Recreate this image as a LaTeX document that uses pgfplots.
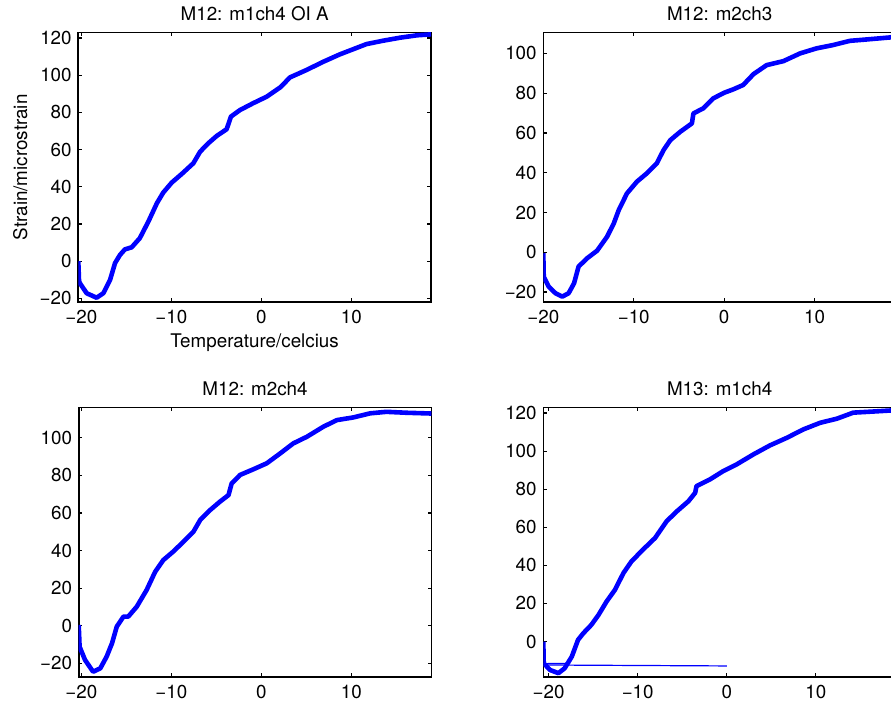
\documentclass[border=0pt]{standalone}
\usepackage{fontspec}
\setmainfont{TeX Gyre Heros}
\usepackage{pgfplots}
\pgfplotsset{compat=1.18}
\newcommand\mfont{\fontsize{9.4}{11}\selectfont}
\pgfplotsset{
  matlab/.style={scale only axis, width=176.35pt, height=134.65pt,
    anchor=south west, axis line style={line width=0.8pt},
    tick style={line width=0.6pt, black}, major tick length=1.8pt,
    tick align=inside, clip=true,
    xtick={-20,-10,0,10}, xticklabels={−20,−10,0,10},
    tick label style={font=\mfont},
    x tick label style={yshift=-0.6pt},
    label style={font=\mfont},
    every axis title shift=2.4pt,
    title style={font=\mfont}},
  curve/.style={color=blue, line width=2.3pt, no marks, line join=round}
}
\begin{document}
\mfont
\begin{tikzpicture}
\path[use as bounding box] (0,0) rectangle (445.5pt,353pt);
\clip (0,0) rectangle (445.5pt,353pt);

% M12: m1ch4 OI A
\begin{axis}[matlab, at={(39.15pt,202pt)},
  xmin=-20.33, xmax=18.85, ymin=-21.9, ymax=122.9,
  ytick={-20,0,20,40,60,80,100,120},
  yticklabels={−20,0,20,40,60,80,100,120},
  title={M12: m1ch4 OI A},
  xlabel={Temperature/celcius}, ylabel={Strain/microstrain},
  every axis x label/.style={at={(axis description cs:0.5,-0.15)}, anchor=center},
  every axis y label/.style={at={(axis description cs:-0.1644,0.5)}, rotate=90, anchor=center}]
\addplot[curve] coordinates {
(-20.33,0) (-20.25,-10.5) (-20.15,-11.8) (-19.4,-17.2) (-18.3,-19.6) (-17.55,-17.2)
(-16.8,-10) (-16.25,-1) (-15.7,3.4) (-15.15,6.4) (-14.4,7.5) (-13.5,12.4)
(-12.55,21.3) (-11.6,31.2) (-10.9,36.9) (-9.95,42.3) (-8.85,46.9) (-7.55,52.7)
(-6.8,58.9) (-5.9,63.4) (-4.95,67.4) (-3.85,71) (-3.37,77.8) (-2.37,81.3)
(-0.9,85) (0.6,88.5) (2.1,93.5) (3.2,98.9) (5.0,102.8) (6.9,107.3) (8.75,111.3)
(10.2,114) (11.7,116.8) (13.55,118.6) (15.4,120.2) (17.3,121.5) (18.85,122)};
\end{axis}

% M12: m2ch3
\begin{axis}[matlab, at={(271.65pt,202pt)},
  xmin=-20.0, xmax=19.0, ymin=-25.0, ymax=110.4,
  ytick={-20,0,20,40,60,80,100},
  yticklabels={−20,0,20,40,60,80,100},
  title={M12: m2ch3}]
\addplot[curve] coordinates {
(-20.0,-0.5) (-19.95,-12.3) (-19.4,-17.3) (-18.65,-20.6) (-17.9,-22.3) (-17.2,-20.6)
(-16.6,-15.6) (-16.1,-7.2) (-15.15,-3) (-14.05,0.8) (-12.95,7.8) (-12.2,14.6)
(-11.65,21.3) (-10.75,29.6) (-9.65,35.5) (-8.55,39.7) (-7.45,44.7) (-6.7,51.4)
(-5.95,56.4) (-4.85,60.6) (-3.57,64.8) (-3.4,69.8) (-2.3,72.4) (-1.2,77.4)
(0,80.2) (1.0,81.9) (2.1,84.1) (3.25,89.6) (4.7,94.1) (6.55,96.1) (8.4,100)
(10.2,102.5) (12.05,104.2) (13.9,106.3) (15.75,107) (18.3,108) (19.0,108.5)};
\end{axis}

% M12: m2ch4
\begin{axis}[matlab, at={(39.35pt,14.5pt)},
  xmin=-20.3, xmax=18.9, ymin=-27.3, ymax=116.0,
  ytick={-20,0,20,40,60,80,100},
  yticklabels={−20,0,20,40,60,80,100},
  title={M12: m2ch4}]
\addplot[curve] coordinates {
(-20.3,0.4) (-20.2,-11.2) (-19.6,-18.2) (-18.7,-24.5) (-17.9,-22.7) (-17.2,-16.5)
(-16.6,-9.4) (-16.07,-0.5) (-15.33,4.8) (-14.8,4.8) (-13.85,10.1) (-12.75,19)
(-11.8,28.7) (-10.9,34.9) (-9.8,39.4) (-8.65,44.7) (-7.55,50) (-6.8,56.2)
(-5.7,61.5) (-4.6,66) (-3.65,69.5) (-3.3,75.7) (-2.37,80.2) (-0.9,83.2)
(0.6,86.4) (2.1,91.7) (3.55,97) (5.05,100.5) (6.9,105.9) (8.4,109.4)
(10.2,110.8) (12.1,113) (13.9,113.8) (16.15,113.3) (18.9,112.9)};
\end{axis}

% M13: m1ch4
\begin{axis}[matlab, at={(271.65pt,14.5pt)},
  xmin=-20.6, xmax=19.0, ymin=-18.6, ymax=122.8,
  ytick={0,20,40,60,80,100,120},
  yticklabels={0,20,40,60,80,100,120},
  title={M13: m1ch4}]
\addplot[color=blue, line width=0.6pt, no marks] coordinates {(0,-12.8) (-20.55,-12.3)};
\addplot[color=blue, line width=0.6pt, no marks] coordinates {(-17.6,-11.4) (-20.55,-11.6)};
\addplot[curve] coordinates {
(-20.6,0) (-20.55,-11.4) (-19.85,-14.9) (-18.9,-16.6) (-18.2,-14) (-17.4,-7.9)
(-16.7,0.9) (-16.1,4.4) (-15.2,8.8) (-14.4,14) (-13.5,21) (-12.55,27.2)
(-11.6,36) (-10.7,42.1) (-9.4,48.3) (-8.05,54.4) (-6.75,63.2) (-5.6,68.4)
(-4.3,73.7) (-3.55,78.1) (-3.4,81.6) (-1.9,85.1) (-0.4,89.5) (1.1,93) (3.0,98.3)
(4.85,103) (6.75,107) (8.6,111.4) (10.5,114.9) (12.35,117) (14.2,120.2)
(16.5,120.8) (18.3,121.3) (19.0,121.5)};
\end{axis}
\end{tikzpicture}
\end{document}
